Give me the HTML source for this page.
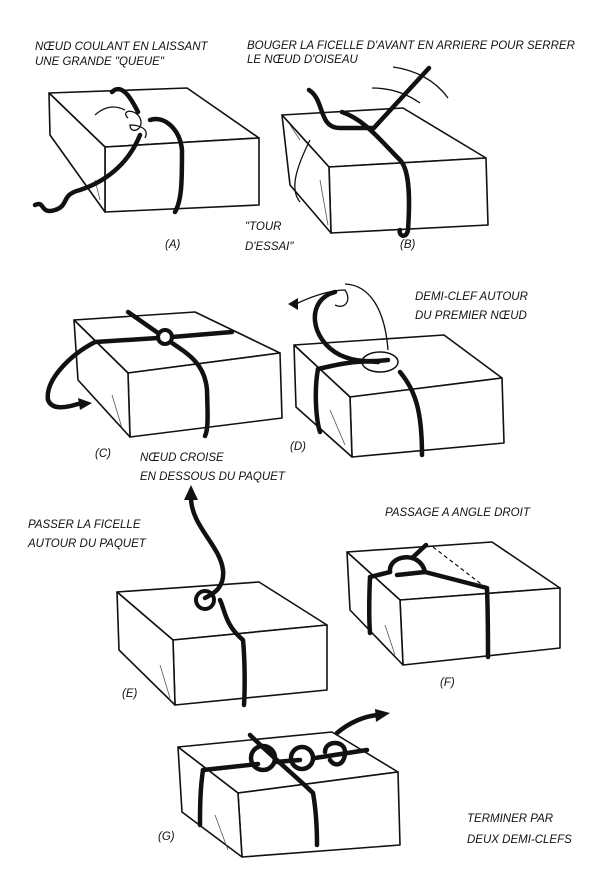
<!DOCTYPE html>
<html><head><meta charset="utf-8"><style>
html,body{margin:0;padding:0;background:#fff;}
svg{display:block}
text{font-family:"Liberation Sans",sans-serif;font-style:italic;font-size:11.5px;fill:#111}
.b{fill:#fff;stroke:#111;stroke-width:1.6;stroke-linejoin:round}
.s{fill:none;stroke:#111;stroke-width:4.5;stroke-linecap:round;stroke-linejoin:round}
.t{fill:none;stroke:#111;stroke-width:1.3}
.h{stroke:#555;stroke-width:0.8}
</style></head><body>
<svg width="612" height="869" viewBox="0 0 612 869" xmlns="http://www.w3.org/2000/svg">
<text x="35" y="50">NŒUD COULANT EN LAISSANT</text>
<text x="35" y="65">UNE GRANDE "QUEUE"</text>
<text x="247" y="49">BOUGER LA FICELLE D'AVANT EN ARRIERE POUR SERRER</text>
<text x="247" y="63">LE NŒUD D'OISEAU</text>
<text x="165" y="248" font-size="14">(A)</text>
<text x="245" y="230">"TOUR</text>
<text x="245" y="250">D'ESSAI"</text>
<text x="400" y="248" font-size="14">(B)</text>
<text x="415" y="300">DEMI-CLEF AUTOUR</text>
<text x="415" y="319">DU PREMIER NŒUD</text>
<text x="95" y="457" font-size="14">(C)</text>
<text x="140" y="461">NŒUD CROISE</text>
<text x="140" y="480">EN DESSOUS DU PAQUET</text>
<text x="290" y="450" font-size="14">(D)</text>
<text x="28" y="528">PASSER LA FICELLE</text>
<text x="28" y="547">AUTOUR DU PAQUET</text>
<text x="385" y="516">PASSAGE A ANGLE DROIT</text>
<text x="122" y="697" font-size="14">(E)</text>
<text x="440" y="686" font-size="14">(F)</text>
<text x="158" y="840" font-size="14">(G)</text>
<text x="467" y="822">TERMINER PAR</text>
<text x="467" y="843">DEUX DEMI-CLEFS</text>

<!-- Box A -->
<g>
<polygon class="b" points="49,93 187,88 259,138 105,147"/>
<polygon class="b" points="105,147 259,138 259,205 105,212"/>
<polygon class="b" points="49,93 105,147 105,212 50,135"/>
<line class="h" x1="95" y1="180" x2="100" y2="200"/>
<path class="s" d="M112,92 C122,82 132,100 138,112"/>
<path class="t" d="M128,118 C120,110 135,108 140,118 C145,130 130,135 130,125 C138,125 150,128 145,138"/>
<path class="t" d="M95,115 C105,106 115,105 125,110"/>
<path class="s" d="M150,120 C165,115 180,130 182,150 C182,180 182,200 175,212"/>
<path class="s" d="M140,135 C130,160 110,180 80,190 C60,195 70,205 55,210 C40,215 45,200 35,205"/>
</g>

<!-- Box B -->
<g>
<polygon class="b" points="282,115 403,108 486,158 329,167"/>
<polygon class="b" points="329,167 486,158 488,225 331,233"/>
<polygon class="b" points="282,115 329,167 331,233 290,185"/>
<line class="h" x1="290" y1="125" x2="300" y2="140"/>
<line class="h" x1="320" y1="180" x2="328" y2="225"/>
<path class="s" d="M309,90 C325,100 318,128 340,128 C355,128 365,128 373,128"/>
<path class="s" d="M429,68 L372,130"/>
<path class="s" d="M342,112 C365,120 380,140 400,160 C410,170 410,200 408,230 C406,240 398,235 400,230"/>
<path class="t" d="M310,140 C295,170 290,190 300,202"/>
<path class="t" d="M393,67 C415,70 435,80 448,98"/>
<path class="t" d="M372,88 C395,88 410,96 420,103"/>
</g>

<!-- Box C -->
<g>
<polygon class="b" points="74,320 195,312 280,353 128,373"/>
<polygon class="b" points="128,373 280,353 282,418 130,437"/>
<polygon class="b" points="74,320 128,373 130,437 78,380"/>
<line class="h" x1="112" y1="395" x2="122" y2="428"/>
<circle cx="165" cy="337" r="7" fill="#fff" stroke="#111" stroke-width="4"/>
<path class="s" d="M95,342 L158,338"/>
<path class="s" d="M172,337 L232,332"/>
<path class="s" d="M128,312 L158,333 M172,343 C190,355 205,365 207,390 C208,420 208,430 205,436"/>
<path class="s" d="M95,342 C70,355 45,380 48,400 C52,410 65,408 78,404"/>
<path d="M78,398 L92,403 L80,410 Z" fill="#111"/>
</g>

<!-- Box D -->
<g>
<polygon class="b" points="294,345 444,335 502,378 350,397"/>
<polygon class="b" points="350,397 502,378 504,443 352,457"/>
<polygon class="b" points="294,345 350,397 352,457 296,407"/>
<line class="h" x1="330" y1="410" x2="345" y2="445"/>
<path class="s" d="M335,292 C305,300 310,340 340,355 C355,362 370,362 388,360"/>
<path class="s" d="M318,369 C335,365 355,360 378,362"/>
<path class="s" d="M400,372 C415,390 422,410 422,455"/>
<path class="s" d="M318,369 C314,390 316,420 320,432"/>
<ellipse cx="380" cy="362" rx="18" ry="10" fill="none" stroke="#111" stroke-width="1.5"/>
<path class="t" d="M296,304 C310,297 330,290 345,290 C352,300 345,310 335,305"/>
<path class="t" d="M345,284 C370,285 385,310 388,350"/>
<path d="M288,304 L298,298 L298,310 Z" fill="#111"/>
</g>

<!-- Box E -->
<g>
<polygon class="b" points="117,592 259,582 327,625 173,640"/>
<polygon class="b" points="173,640 327,625 327,690 175,705"/>
<polygon class="b" points="117,592 173,640 175,705 119,650"/>
<line class="h" x1="160" y1="665" x2="170" y2="698"/>
<path class="s" d="M191,496 C190,525 220,545 223,570 C225,590 210,595 205,598"/>
<path class="s" d="M220,600 C225,610 225,625 243,640 C245,660 245,690 244,705"/>
<circle cx="205" cy="600" r="9" fill="none" stroke="#111" stroke-width="4"/>
<path d="M184,500 L191,485 L198,500 Z" fill="#111"/>
</g>

<!-- Box F -->
<g>
<polygon class="b" points="347,552 492,542 560,588 400,600"/>
<polygon class="b" points="400,600 560,588 560,648 403,665"/>
<polygon class="b" points="347,552 400,600 403,665 350,610"/>
<line class="h" x1="385" y1="625" x2="395" y2="655"/>
<path class="s" d="M390,572 C388,555 420,550 425,572"/>
<path class="s" d="M390,572 L370,577 C369,600 369,620 370,633"/>
<path class="s" d="M397,575 L425,572 L487,588 C488,615 488,640 488,657"/>
<path class="s" d="M412,558 L426,545"/>
<path d="M433,547 L485,587" stroke="#111" stroke-width="1.2" stroke-dasharray="4,3" fill="none"/>
</g>

<!-- Box G -->
<g>
<polygon class="b" points="178,747 332,732 398,772 238,793"/>
<polygon class="b" points="238,793 398,772 400,845 242,857"/>
<polygon class="b" points="178,747 238,793 242,857 182,812"/>
<line class="h" x1="215" y1="815" x2="228" y2="850"/>
<path class="s" d="M203,770 L258,764 M275,762 L300,760 M315,758 L367,750"/>
<path class="s" d="M337,733 C350,722 365,716 378,715"/>
<path d="M375,709 L390,713 L376,722 Z" fill="#111"/>
<circle cx="263" cy="758" r="12" fill="none" stroke="#111" stroke-width="4.5"/>
<circle cx="302" cy="758" r="11" fill="none" stroke="#111" stroke-width="4.5"/>
<path class="s" d="M325,752 C325,740 345,740 345,752 C345,765 335,768 330,760"/>
<path class="s" d="M203,770 C200,790 200,810 200,825"/>
<path class="s" d="M250,735 C270,755 300,780 313,793 C316,810 317,830 317,845"/>
</g>
</svg>
</body></html>
